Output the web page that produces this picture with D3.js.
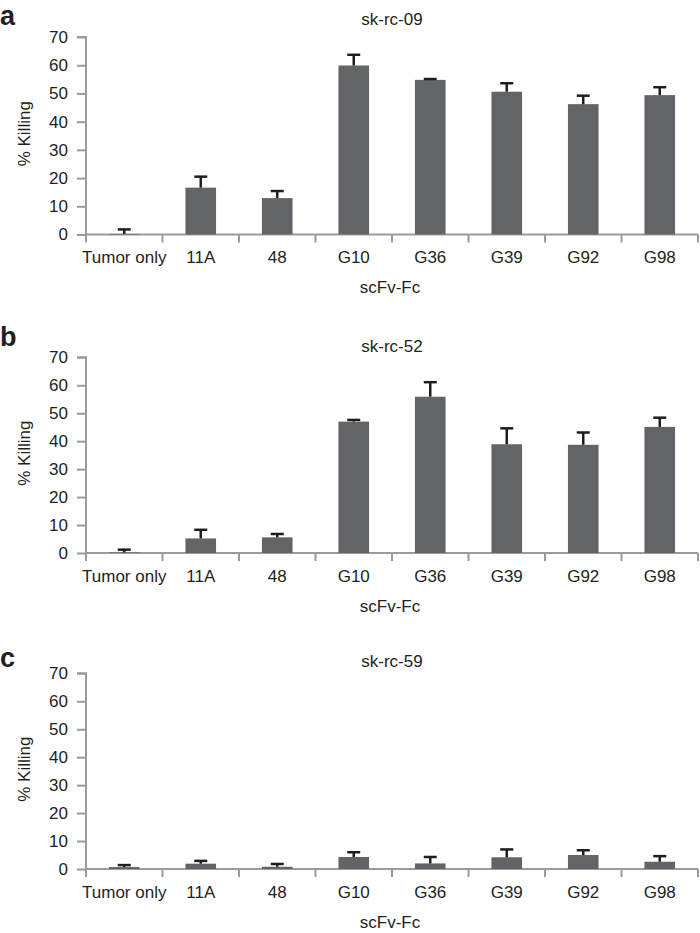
<!DOCTYPE html>
<html>
<head>
<meta charset="utf-8">
<script src="https://cdn.jsdelivr.net/npm/d3@7"></script>
<style>
  html, body { margin: 0; padding: 0; background: #fff; }
  svg { display: block; }
  text { font-family: "Liberation Sans", Arial, Helvetica, sans-serif; fill: #231f20; }
</style>
</head>
<body>
<svg id="chart" width="700" height="933"></svg>
<script>
// ---- Data ----
const categories = ["Tumor only", "11A", "48", "G10", "G36", "G39", "G92", "G98"];
const panelLetters = ["a", "b", "c"];
const panelTitles = ["sk-rc-09", "sk-rc-52", "sk-rc-59"];
const killingA = [0.2, 16.6, 12.9, 59.9, 54.8, 50.6, 46.2, 49.4];
const errorA   = [1.6, 3.9, 2.5, 3.8, 0.3, 3.0, 3.0, 2.8];
const killingB = [0.2, 5.2, 5.6, 47.0, 55.9, 38.9, 38.7, 45.1];
const errorB   = [1.0, 3.1, 1.2, 0.6, 5.2, 5.7, 4.4, 3.3];
const killingC = [0.7, 1.9, 0.8, 4.3, 2.0, 4.2, 5.0, 2.6];
const errorC   = [0.7, 1.0, 1.0, 1.7, 2.3, 2.8, 1.7, 2.0];
const yTicks = [0, 10, 20, 30, 40, 50, 60, 70];
const yLabel = "% Killing";
const xLabel = "scFv-Fc";

const panelValues = [killingA, killingB, killingC];
const panelErrors = [errorA, errorB, errorC];

// ---- Layout ----
const svg = d3.select("#chart");
const left = 86, right = 698;
const layouts = [
  { top: 37,    bottom: 234.5, titleY: 25,  letterY: 25 },
  { top: 357.3, bottom: 553,   titleY: 352, letterY: 345.5 },
  { top: 673.3, bottom: 869,   titleY: 667, letterY: 667 }
];
const axisColor = "#9b9b9b";
const barColor = "#636467";
const errColor = "#1e1e1e";
const fontSize = 17;

const x = d3.scaleBand().domain(categories).range([left, right]).paddingInner(0).paddingOuter(0);
const barW = x.bandwidth() * 0.4;

layouts.forEach((L, i) => {
  const g = svg.append("g");
  const y = d3.scaleLinear().domain([0, 70]).range([L.bottom, L.top]);
  const vals = panelValues[i], errs = panelErrors[i];

  // y axis
  const yAxis = d3.axisLeft(y).tickValues(yTicks).tickSize(9).tickPadding(9).tickFormat(d3.format("d"));
  const ya = g.append("g").attr("transform", `translate(${left},0)`).call(yAxis);
  ya.select(".domain").attr("stroke", axisColor).attr("stroke-width", 2)
    .attr("d", `M-9,${y(70)}H0V${y(0)}`);
  ya.selectAll(".tick line").attr("stroke", axisColor).attr("stroke-width", 2);
  ya.selectAll(".tick text").attr("font-size", fontSize).attr("fill", "#231f20")
    .style("font-family", '"Liberation Sans", Arial, sans-serif');

  // x axis labels
  const xAxis = d3.axisBottom(x).tickSize(0).tickPadding(0);
  const xa = g.append("g").attr("transform", `translate(0,${L.bottom})`).call(xAxis);
  xa.select(".domain").remove();
  xa.selectAll(".tick text").attr("font-size", fontSize).attr("fill", "#231f20")
    .attr("y", 28.5).attr("dy", 0)
    .style("font-family", '"Liberation Sans", Arial, sans-serif');

  // x axis line and boundary ticks
  g.append("line").attr("x1", left).attr("x2", right).attr("y1", L.bottom).attr("y2", L.bottom)
    .attr("stroke", axisColor).attr("stroke-width", 2);
  const edges = categories.map(c => x(c)).concat([x.range()[1]]);
  g.selectAll(".xt").data(edges).enter().append("line")
    .attr("x1", d => d).attr("x2", d => d)
    .attr("y1", L.bottom).attr("y2", L.bottom + 8)
    .attr("stroke", axisColor).attr("stroke-width", 2);

  // bars
  g.selectAll(".bar").data(categories).enter().append("rect")
    .attr("x", c => x(c) + (x.bandwidth() - barW) / 2)
    .attr("width", barW)
    .attr("y", (c, j) => y(vals[j]))
    .attr("height", (c, j) => y(0) - y(vals[j]))
    .attr("fill", barColor);

  // error bars (upper only)
  const cx = c => x(c) + x.bandwidth() / 2;
  g.selectAll(".err").data(categories).enter().append("line")
    .attr("x1", cx).attr("x2", cx)
    .attr("y1", (c, j) => y(vals[j]))
    .attr("y2", (c, j) => y(vals[j] + errs[j]))
    .attr("stroke", errColor).attr("stroke-width", 2.5);
  g.selectAll(".cap").data(categories).enter().append("line")
    .attr("x1", c => cx(c) - 6.5).attr("x2", c => cx(c) + 6.5)
    .attr("y1", (c, j) => y(vals[j] + errs[j]))
    .attr("y2", (c, j) => y(vals[j] + errs[j]))
    .attr("stroke", errColor).attr("stroke-width", 2.5);

  // title
  g.append("text").attr("x", (left + right) / 2).attr("y", L.titleY)
    .attr("text-anchor", "middle").attr("font-size", fontSize).text(panelTitles[i]);

  // panel letter
  g.append("text").attr("x", 0).attr("y", L.letterY)
    .attr("font-size", 27).attr("font-weight", "bold").text(panelLetters[i]);

  // y label
  g.append("text")
    .attr("transform", `translate(30,${(L.top + L.bottom) / 2 - 2}) rotate(-90)`)
    .attr("text-anchor", "middle").attr("font-size", fontSize).text(yLabel);

  // x label
  g.append("text").attr("x", (left + right) / 2 - 2).attr("y", L.bottom + 58.5)
    .attr("text-anchor", "middle").attr("font-size", fontSize).text(xLabel);
});
</script>
</body>
</html>
